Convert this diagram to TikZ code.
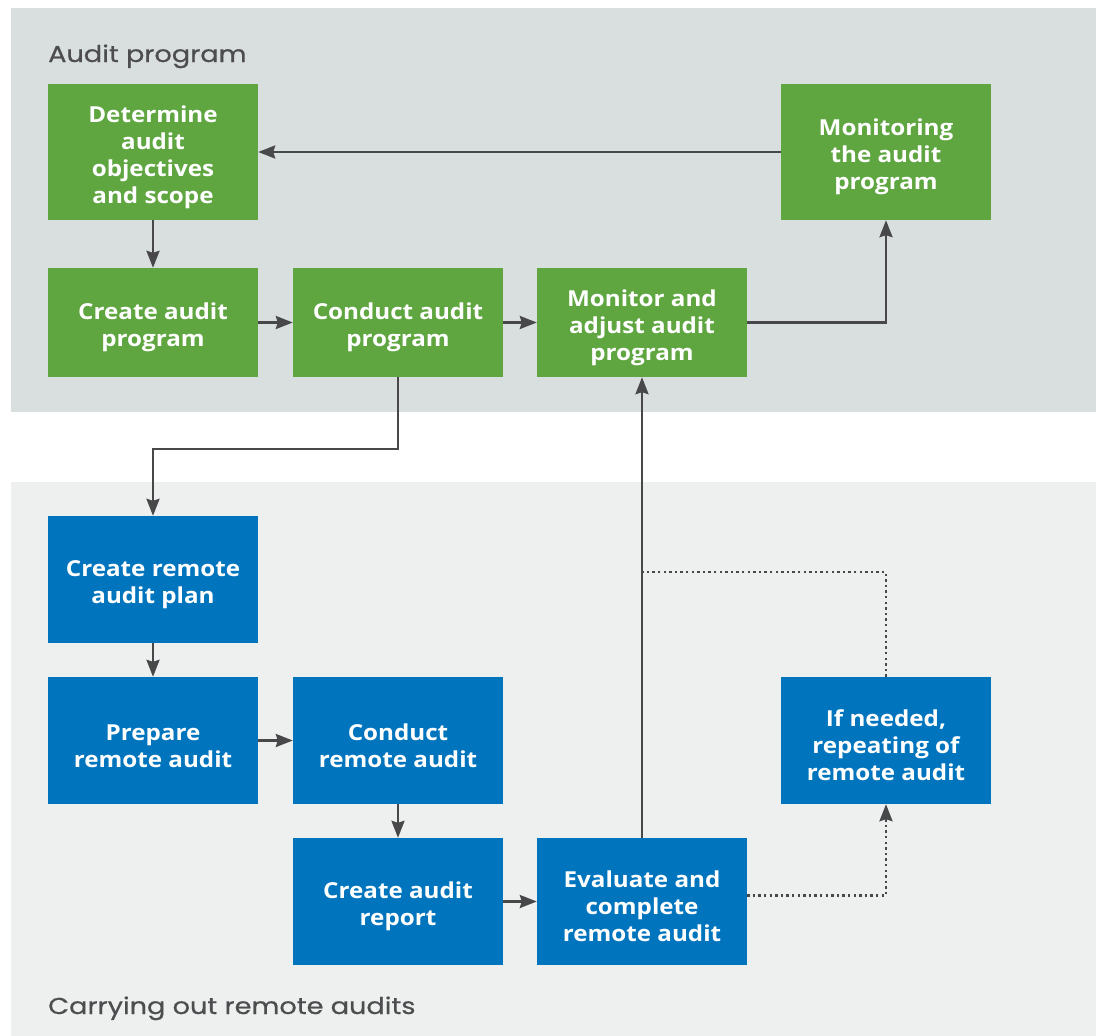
\documentclass[tikz,border=0pt]{standalone}
\usepackage{fontspec}
\setmainfont{Open Sans}[FakeStretch=1.1]
\newfontfamily\labfont{Poppins}[FakeStretch=1.18,FakeBold=0.6]
\usetikzlibrary{arrows.meta}
\definecolor{grn}{HTML}{5FA641}
\definecolor{blu}{HTML}{0075BE}
\definecolor{bgtop}{HTML}{D9DFDF}
\definecolor{bgbot}{HTML}{EEF0F0}
\definecolor{arr}{HTML}{48484A}
\definecolor{labc}{HTML}{4D4D4F}
\newcommand\tp{\rule{0pt}{27pt}}
\begin{document}
\begin{tikzpicture}[x=1pt,y=-1pt,
  boxbase/.style={text=white,font=\bfseries\fontsize{22}{27}\selectfont,align=center,inner sep=0pt,
    minimum width=210pt},
  boxg/.style={boxbase,fill=grn},
  boxb/.style={boxbase,fill=blu},
  conn/.style={draw=arr,line width=2.6pt,-{Stealth[length=17pt,width=13pt,inset=2pt]}},
  dots/.style={draw=arr,line width=2.6pt,dash pattern=on 2.4pt off 3.2pt},
  dotarr/.style={dots,-{Stealth[length=17pt,width=13pt,inset=2pt]}},
  lab/.style={text=labc,font=\labfont\fontsize{23}{28}\selectfont,anchor=base west,inner sep=0pt}]
\useasboundingbox (0,0) rectangle (1096,1036);
\fill[white] (0,0) rectangle (1096,1036);
\fill[bgtop] (11,8) rectangle (1096,412);
\fill[bgbot] (11,482) rectangle (1096,1036);
\node[lab] (l1) at (48,62) {Audit program};
\node[lab] (l2) at (48,1014) {Carrying out remote audits};
% green boxes
\node[boxg,minimum height=136pt] (det) at (153,152) {\tp Determine\\audit\\objectives\\and scope};
\node[boxg,minimum height=136pt] (mon) at (886,152) {\tp Monitoring\\the audit\\program};
\node[boxg,minimum height=109pt] (cap) at (153,322.5) {\tp Create audit\\program};
\node[boxg,minimum height=109pt] (cop) at (398,322.5) {\tp Conduct audit\\program};
\node[boxg,minimum height=109pt] (maj) at (642,322.5) {\tp Monitor and\\adjust audit\\program};
% blue boxes
\node[boxb,minimum height=127pt] (crp) at (153,579.5) {\tp Create remote\\audit plan};
\node[boxb,minimum height=127pt] (pra) at (153,740.5) {\tp Prepare\\remote audit};
\node[boxb,minimum height=127pt] (cra) at (398,740.5) {\tp Conduct\\remote audit};
\node[boxb,minimum height=127pt] (ifn) at (886,740.5) {\tp If needed,\\repeating of\\remote audit};
\node[boxb,minimum height=127pt] (car) at (398,901.5) {\tp Create audit\\report};
\node[boxb,minimum height=127pt] (eva) at (642,901.5) {\tp Evaluate and\\complete\\remote audit};
\coordinate (j1) at (398,449);
\coordinate (j2) at (153,449);
\coordinate (dj) at (642,572);
\coordinate (dk) at (886,572);
% connectors
\draw[conn] (mon.west) -- (det.east);
\draw[conn] (det.south) -- (cap.north);
\draw[conn] (cap.east) -- (cop.west);
\draw[conn] (cop.east) -- (maj.west);
\draw[conn] (maj.east) -| (mon.south);
\draw[conn] (cop.south) -- (j1) -- (j2) -- (crp.north);
\draw[conn] (crp.south) -- (pra.north);
\draw[conn] (pra.east) -- (cra.west);
\draw[conn] (cra.south) -- (car.north);
\draw[conn] (car.east) -- (eva.west);
\draw[conn] (eva.north) -- (maj.south);
\draw[dotarr] ([yshift=6pt]eva.east) -| (ifn.south);
\draw[dots] (ifn.north) -- (dk) -- (dj);
\end{tikzpicture}
\end{document}
